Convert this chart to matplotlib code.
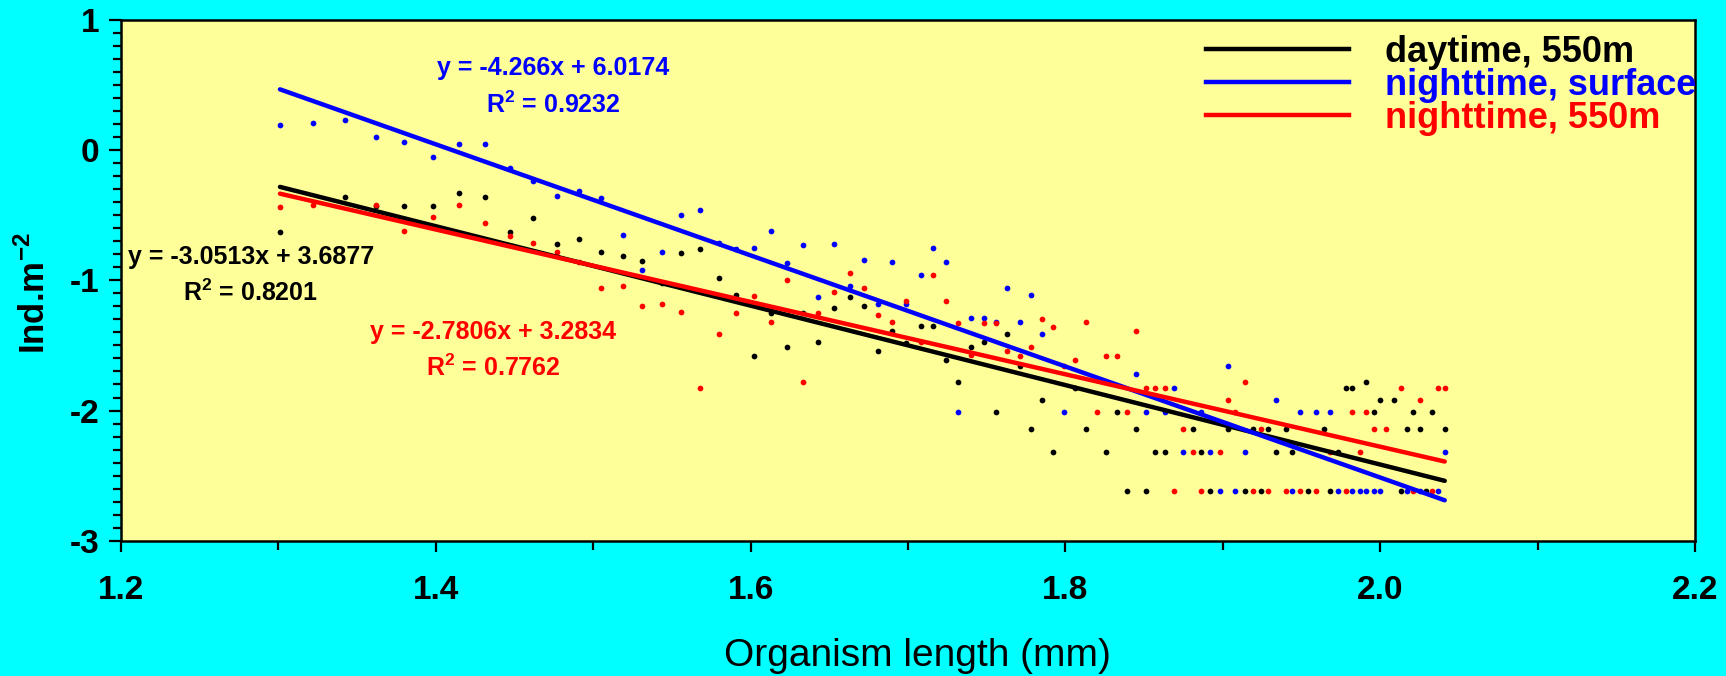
import numpy as np
import matplotlib
matplotlib.use("Agg")
import matplotlib.pyplot as plt
from matplotlib.ticker import MultipleLocator
from matplotlib.lines import Line2D

plt.rcParams['font.family'] = ['Liberation Sans', 'DejaVu Sans']
plt.rcParams['axes.unicode_minus'] = False
plt.rcParams['mathtext.fontset'] = 'custom'
plt.rcParams['mathtext.rm'] = 'Liberation Sans'
plt.rcParams['mathtext.bf'] = 'Liberation Sans:bold'

# ---------------- data ----------------
series_names = ["daytime, 550m", "nighttime, surface", "nighttime, 550m"]
series_colors = ["#000000", "#0000FF", "#FF0000"]

day_x = [1.301, 1.342, 1.362, 1.380, 1.398, 1.415, 1.431, 1.447, 1.462, 1.477,
         1.491, 1.505, 1.519, 1.531, 1.544, 1.556, 1.568, 1.580, 1.591, 1.602,
         1.613, 1.623, 1.633, 1.643, 1.653, 1.663, 1.672, 1.681, 1.690, 1.699,
         1.708, 1.716, 1.724, 1.732, 1.740, 1.748, 1.756, 1.763, 1.771, 1.778,
         1.785, 1.792, 1.806, 1.813, 1.826, 1.833, 1.839, 1.845, 1.851, 1.857,
         1.863, 1.881, 1.886, 1.892, 1.903, 1.914, 1.919, 1.924, 1.929, 1.934,
         1.940, 1.944, 1.954, 1.964, 1.968, 1.973, 1.978, 1.982, 1.991, 1.996,
         2.000, 2.009, 2.013, 2.017, 2.021, 2.025, 2.029, 2.033, 2.041]
day_y = [-0.63, -0.36, -0.43, -0.43, -0.43, -0.33, -0.36, -0.63, -0.52, -0.72,
         -0.68, -0.78, -0.81, -0.85, -1.02, -0.79, -0.76, -0.98, -1.11, -1.58,
         -1.25, -1.51, -1.25, -1.47, -1.21, -1.13, -1.20, -1.54, -1.39, -1.48,
         -1.35, -1.35, -1.61, -1.78, -1.51, -1.47, -2.01, -1.41, -1.66, -2.14,
         -1.92, -2.32, -1.83, -2.14, -2.32, -2.01, -2.62, -2.14, -2.62, -2.32,
         -2.32, -2.14, -2.32, -2.62, -2.14, -2.62, -2.14, -2.62, -2.14, -2.32,
         -2.14, -2.32, -2.62, -2.14, -2.62, -2.32, -1.83, -1.83, -1.78, -2.01,
         -1.92, -1.92, -2.62, -2.14, -2.01, -2.14, -2.62, -2.01, -2.14]

surf_x = [1.301, 1.322, 1.342, 1.362, 1.380, 1.398, 1.415, 1.431, 1.447, 1.462,
          1.477, 1.491, 1.505, 1.519, 1.531, 1.544, 1.556, 1.568, 1.580, 1.591,
          1.602, 1.613, 1.623, 1.633, 1.643, 1.653, 1.663, 1.672, 1.681, 1.690,
          1.699, 1.708, 1.716, 1.724,
          1.732, 1.740, 1.748, 1.756, 1.763, 1.771, 1.778, 1.785, 1.799, 1.845,
          1.851, 1.863, 1.869, 1.875, 1.886, 1.892, 1.898, 1.903, 1.908, 1.914,
          1.934, 1.944, 1.949, 1.959, 1.968, 1.973, 1.982, 1.987, 1.991, 1.996,
          2.000, 2.017, 2.025, 2.037, 2.041]
surf_y = [0.19, 0.21, 0.23, 0.10, 0.06, -0.05, 0.05, 0.05, -0.14, -0.24,
          -0.35, -0.31, -0.37, -0.65, -0.92, -0.78, -0.50, -0.46, -0.71, -0.76,
          -0.75, -0.62, -0.87, -0.73, -1.13, -0.72, -1.04, -0.84, -1.18, -0.86,
          -1.18, -0.96, -0.75, -0.86,
          -2.01, -1.29, -1.29, -1.32, -1.06, -1.32, -1.11, -1.41, -2.01, -1.72,
          -2.01, -2.01, -1.83, -2.32, -2.01, -2.32, -2.62, -1.66, -2.62, -2.32,
          -1.92, -2.62, -2.01, -2.01, -2.01, -2.62, -2.62, -2.62, -2.62, -2.62,
          -2.62, -2.62, -2.62, -2.62, -2.32]

night_x = [1.301, 1.322, 1.362, 1.380, 1.398, 1.415, 1.431, 1.447, 1.462, 1.477,
           1.491, 1.505, 1.519, 1.531, 1.544, 1.556, 1.568, 1.580, 1.591, 1.602,
           1.613, 1.623, 1.633, 1.643, 1.653, 1.663, 1.672, 1.681, 1.690, 1.699,
           1.708, 1.716, 1.724, 1.732, 1.740, 1.748, 1.756, 1.763, 1.771, 1.778,
           1.785, 1.792, 1.799, 1.806, 1.813, 1.820, 1.826, 1.833, 1.839, 1.845,
           1.851, 1.857, 1.863, 1.869, 1.875, 1.881, 1.886, 1.898, 1.903, 1.908,
           1.914, 1.919, 1.924, 1.929, 1.940, 1.949, 1.959, 1.968, 1.978, 1.982,
           1.987, 1.991, 1.996, 2.004, 2.013, 2.021, 2.025, 2.033, 2.037, 2.041]
night_y = [-0.44, -0.42, -0.42, -0.62, -0.51, -0.42, -0.56, -0.66, -0.71, -0.78,
           -0.86, -1.06, -1.04, -1.20, -1.18, -1.24, -1.83, -1.41, -1.25, -1.12,
           -1.32, -1.00, -1.78, -1.25, -1.09, -0.94, -1.06, -1.27, -1.32, -1.16,
           -1.47, -0.96, -1.16, -1.33, -1.57, -1.33, -1.33, -1.54, -1.58, -1.51,
           -1.30, -1.36, -1.66, -1.61, -1.32, -2.01, -1.58, -1.58, -2.01, -1.39,
           -1.83, -1.83, -1.83, -2.62, -2.14, -2.32, -2.62, -2.32, -1.92, -2.01,
           -1.78, -2.62, -2.14, -2.62, -2.62, -2.62, -2.62, -2.32, -2.62, -2.01,
           -2.32, -2.01, -2.14, -2.14, -1.83, -2.62, -1.92, -2.62, -1.83, -1.83]

# regression coefficients (slope, intercept) and R^2 as printed on the chart
slopes = [-3.0513, -4.266, -2.7806]
intercepts = [3.6877, 6.0174, 3.2834]
r2_values = ["0.8201", "0.9232", "0.7762"]
eq_texts = ["y = -3.0513x + 3.6877", "y = -4.266x + 6.0174", "y = -2.7806x + 3.2834"]

x_ticks = [1.2, 1.4, 1.6, 1.8, 2.0, 2.2]
x_tick_labels = ["1.2", "1.4", "1.6", "1.8", "2.0", "2.2"]
y_ticks = [1, 0, -1, -2, -3]
y_tick_labels = ["1", "0", "-1", "-2", "-3"]

# ---------------- figure ----------------
W, H = 1726, 676
fig = plt.figure(figsize=(W / 100, H / 100), dpi=100, facecolor="#00FFFF")
ax = fig.add_axes([121 / W, 1 - 540.7 / H, (1695 - 121) / W, (540.7 - 20) / H])
ax.set_facecolor("#FFFF99")

xs = [day_x, surf_x, night_x]
ys = [day_y, surf_y, night_y]

for x, y, c in zip(xs, ys, series_colors):
    ax.scatter(x, y, s=17, color=c, zorder=2, linewidths=0)

handles = []
for x, m, b, c, name in zip(xs, slopes, intercepts, series_colors, series_names):
    xf = np.array([min(x), max(x)])
    ax.plot(xf, m * xf + b, color=c, lw=3.2, zorder=3, solid_capstyle="round")
    handles.append(Line2D([], [], color=c, lw=3.2))

ax.set_xlim(1.2, 2.2)
ax.set_ylim(-3, 1)
ax.set_xticks(x_ticks)
ax.set_xticklabels(x_tick_labels)
ax.set_yticks(y_ticks)
ax.set_yticklabels(y_tick_labels)
ax.xaxis.set_minor_locator(MultipleLocator(0.1))
ax.yaxis.set_minor_locator(MultipleLocator(0.1))

ax.tick_params(axis="x", which="major", direction="out", length=8, width=1.6,
               pad=17, labelsize=24)
ax.tick_params(axis="x", which="minor", direction="out", length=6.5, width=1.6)
ax.tick_params(axis="y", which="major", direction="out", length=8.5, width=1.6,
               pad=7, labelsize=24)
ax.tick_params(axis="y", which="minor", direction="out", length=6, width=1.6)
for lab in ax.get_xticklabels() + ax.get_yticklabels():
    lab.set_fontweight("bold")
for sp in ax.spines.values():
    sp.set_linewidth(1.8)
    sp.set_color("black")

ax.set_xlabel("Organism length (mm)", fontsize=28, va="center")
ax.xaxis.set_label_coords(0.506, -0.222)
ax.set_ylabel(r"Ind.m$^{\mathbf{-2}}$", fontsize=25, fontweight="bold", va="center")
ax.yaxis.set_label_coords(-0.055, 0.475)

# equation annotations
eq_pos = [(1.2826, -0.820, -1.097), (1.4746, 0.631, 0.347), (1.4365, -1.396, -1.673)]
for (ex, ey, ry), txt, r2, c in zip(eq_pos, eq_texts, r2_values, series_colors):
    ax.text(ex, ey, txt, color=c, fontsize=18, fontweight="bold",
            ha="center", va="center", zorder=4)
    ax.text(ex, ry, "R$^{\\mathbf{2}}$ = " + r2, color=c, fontsize=18, fontweight="bold",
            ha="center", va="center", zorder=4)

leg = ax.legend(handles, series_names, loc="upper left",
                bbox_to_anchor=(1206 / W, 1 - 35 / H), bbox_transform=fig.transFigure,
                frameon=False, handlelength=3.95, handletextpad=1.0,
                labelspacing=-0.06, borderpad=0, borderaxespad=0,
                prop={"weight": "bold", "size": 26})
for t, c in zip(leg.get_texts(), series_colors):
    t.set_color(c)

fig.savefig("out.png", dpi=100, facecolor=fig.get_facecolor())
